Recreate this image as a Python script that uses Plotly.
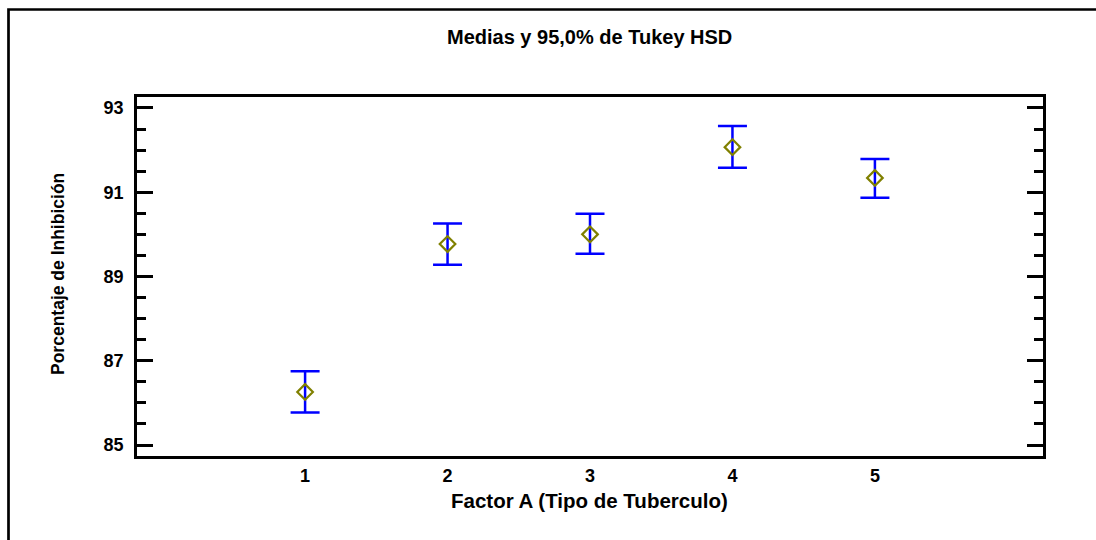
import plotly.graph_objects as go

# Data
categories = [1, 2, 3, 4, 5]
means = [86.26, 89.77, 90.00, 92.07, 91.34]
lower = [85.77, 89.28, 89.54, 91.58, 90.87]
upper = [86.75, 90.26, 90.49, 92.57, 91.79]
y_ticks = [85, 87, 89, 91, 93]

title_text = "Medias y 95,0% de Tukey HSD"
x_title = "Factor A (Tipo de Tuberculo)"
y_title = "Porcentaje de Inhibición"

FONT = "Liberation Sans, Arial, Helvetica, sans-serif"

err_plus = [u - m for u, m in zip(upper, means)]
err_minus = [m - l for m, l in zip(means, lower)]

fig = go.Figure()
fig.add_trace(go.Scatter(
    x=categories, y=means, mode="markers",
    marker=dict(symbol="diamond-open", size=12, color="#808000",
                line=dict(color="#808000", width=2.2)),
    error_y=dict(type="data", symmetric=False, array=err_plus, arrayminus=err_minus,
                 color="#0000FF", thickness=2.5, width=14.5),
    showlegend=False, hoverinfo="x+y",
))

W, H = 1096, 540
L, R, T, B = 137, 53, 97, 84
pw, ph = W - L - R, H - T - B

def px_to_paper_x(px):
    return (px - L) / pw

def px_to_paper_y(py):
    return (H - B - py) / ph

fig.update_layout(
    width=W, height=H,
    margin=dict(l=L, r=R, t=T, b=B, pad=0),
    paper_bgcolor="white", plot_bgcolor="white",
    font=dict(family=FONT, color="black"),
    xaxis=dict(
        range=[-0.18, 6.18], tickmode="array", tickvals=categories,
        ticktext=[str(c) for c in categories],
        ticks="", showgrid=False, zeroline=False,
        showline=True, linecolor="black", linewidth=2.5, mirror=True,
        tickfont=dict(family=FONT, size=18, weight="bold", color="black"),
        ticklabelstandoff=2,
    ),
    yaxis=dict(
        range=[84.74, 93.26], tickmode="array", tickvals=y_ticks,
        ticktext=[str(v) for v in y_ticks],
        ticks="inside", ticklen=16, tickwidth=2.5, tickcolor="black",
        minor=dict(dtick=0.5, tick0=85, ticks="inside", ticklen=9, tickwidth=2.5,
                   tickcolor="black", showgrid=False),
        showgrid=False, zeroline=False,
        showline=True, linecolor="black", linewidth=2.5, mirror="allticks",
        tickfont=dict(family=FONT, size=18, weight="bold", color="black"),
        ticklabelstandoff=7,
    ),
    shapes=[dict(
        type="path", xref="paper", yref="paper",
        path=(f"M {px_to_paper_x(8.5)},{px_to_paper_y(560)} "
              f"L {px_to_paper_x(8.5)},{px_to_paper_y(9.5)} "
              f"L {px_to_paper_x(1110)},{px_to_paper_y(9.5)}"),
        line=dict(color="black", width=2.7),
    )],
    annotations=[
        dict(text=title_text, xref="paper", yref="paper",
             x=px_to_paper_x(589), y=px_to_paper_y(37), xanchor="center", yanchor="middle",
             showarrow=False, font=dict(family=FONT, size=20, weight="bold", color="black")),
        dict(text=x_title, xref="paper", yref="paper",
             x=px_to_paper_x(589), y=px_to_paper_y(500), xanchor="center", yanchor="middle",
             showarrow=False, font=dict(family=FONT, size=20.5, weight="bold", color="black")),
        dict(text=y_title, xref="paper", yref="paper", textangle=-90,
             x=px_to_paper_x(58), y=px_to_paper_y(274), xanchor="center", yanchor="middle",
             showarrow=False, font=dict(family=FONT, size=17.5, weight="bold", color="black")),
    ],
)

fig.write_html("out.html", config={"displayModeBar": False},
               post_script="document.body.style.margin='0';")
